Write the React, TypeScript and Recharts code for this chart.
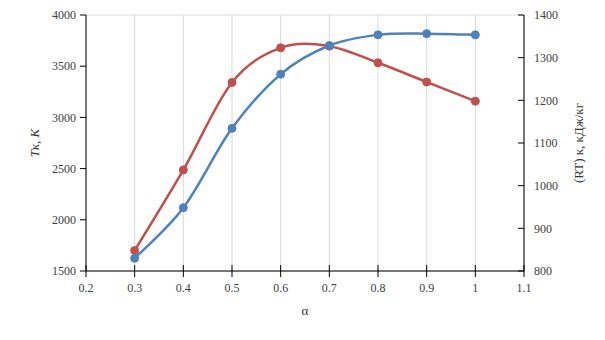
import {
  CartesianGrid,
  Line,
  LineChart,
  XAxis,
  YAxis,
} from "recharts";

const alpha = [0.3, 0.4, 0.5, 0.6, 0.7, 0.8, 0.9, 1.0];
const tk = [1624, 2118, 2893, 3422, 3702, 3806, 3818, 3806];
const rtk = [848, 1037, 1242, 1323, 1327, 1288, 1243, 1198];

const xTicks = [0.2, 0.3, 0.4, 0.5, 0.6, 0.7, 0.8, 0.9, 1.0, 1.1];
const leftTicks = [1500, 2000, 2500, 3000, 3500, 4000];
const rightTicks = [800, 900, 1000, 1100, 1200, 1300, 1400];

const data = alpha.map((a, i) => ({ a, tk: tk[i], rtk: rtk[i] }));

const font = "'Liberation Serif', 'Times New Roman', serif";
const TICK = 6;
const GAP = 6;

// Excel-like smoothing (Catmull-Rom through the points)
function smoothCurve(ctx: any) {
  let pts: [number, number][] = [];
  return {
    areaStart() {},
    areaEnd() {},
    lineStart() {
      pts = [];
    },
    point(x: number, y: number) {
      pts.push([+x, +y]);
    },
    lineEnd() {
      if (!pts.length) return;
      ctx.moveTo(pts[0][0], pts[0][1]);
      for (let i = 0; i < pts.length - 1; i++) {
        const p0 = pts[i - 1] || pts[i];
        const p1 = pts[i];
        const p2 = pts[i + 1];
        const p3 = pts[i + 2] || p2;
        ctx.bezierCurveTo(
          p1[0] + (p2[0] - p0[0]) / 6,
          p1[1] + (p2[1] - p0[1]) / 6,
          p2[0] - (p3[0] - p1[0]) / 6,
          p2[1] - (p3[1] - p1[1]) / 6,
          p2[0],
          p2[1]
        );
      }
    },
  };
}

function XTick(props: any) {
  const { x, y, payload } = props;
  const axisY = y - TICK - GAP;
  return (
    <g>
      <line x1={x} x2={x} y1={axisY - TICK} y2={axisY} stroke="#000" />
      <text
        x={x}
        y={y}
        dy="0.71em"
        textAnchor="middle"
        fontSize={12}
        fill="#404040"
        fontFamily={font}
      >
        {String(Math.round(payload.value * 10) / 10)}
      </text>
    </g>
  );
}

function LeftTick(props: any) {
  const { x, y, payload } = props;
  return (
    <text
      x={x}
      y={y}
      dy="0.355em"
      textAnchor="end"
      fontSize={12}
      fill="#404040"
      fontFamily={font}
    >
      {payload.value}
    </text>
  );
}

function RightTick(props: any) {
  const { x, y, payload } = props;
  const axisX = x - TICK - GAP;
  return (
    <g>
      <line x1={axisX - TICK} x2={axisX} y1={y} y2={y} stroke="#000" />
      <text
        x={x - 2}
        y={y}
        dy="0.355em"
        textAnchor="start"
        fontSize={12}
        fill="#404040"
        fontFamily={font}
      >
        {payload.value}
      </text>
    </g>
  );
}

function App() {
  return (
    <div style={{ position: "absolute", left: 0, top: 0, background: "#fff" }}>
      <LineChart
        width={605}
        height={340}
        data={data}
        margin={{ top: 15, right: 21, bottom: 39, left: 26 }}
      >
        <CartesianGrid stroke="#d9d9d9" strokeWidth={1} />
        <XAxis
          dataKey="a"
          type="number"
          domain={[0.2, 1.1]}
          ticks={xTicks}
          height={30}
          stroke="#000"
          tickSize={TICK}
          tickMargin={GAP}
          tick={<XTick />}
          label={{
            value: "α",
            position: "insideBottom",
            offset: -14,
            style: { fontSize: 13, fill: "#333", fontFamily: font },
          }}
        />
        <YAxis
          yAxisId="left"
          domain={[1500, 4000]}
          ticks={leftTicks}
          width={60}
          stroke="#000"
          tickSize={TICK}
          tickMargin={4}
          tick={<LeftTick />}
          label={{
            value: "Tк, К",
            angle: -90,
            position: "center",
            dx: -22,
            style: {
              fontSize: 13,
              fill: "#333",
              fontFamily: font,
              fontStyle: "italic",
            },
          }}
        />
        <YAxis
          yAxisId="right"
          orientation="right"
          domain={[800, 1400]}
          ticks={rightTicks}
          width={60}
          stroke="#000"
          tickSize={TICK}
          tickMargin={GAP}
          tickLine={false}
          tick={<RightTick />}
          label={{
            value: "(RT) к, кДж/кг",
            angle: -90,
            position: "center",
            dx: 24,
            style: { fontSize: 13, fill: "#333", fontFamily: font },
          }}
        />
        <Line
          yAxisId="right"
          type={smoothCurve as any}
          dataKey="rtk"
          stroke="#C0504D"
          strokeWidth={2.5}
          dot={{ r: 4, fill: "#C0504D", stroke: "#C0504D", strokeWidth: 1 }}
          isAnimationActive={false}
        />
        <Line
          yAxisId="left"
          type={smoothCurve as any}
          dataKey="tk"
          stroke="#4F81BD"
          strokeWidth={2.5}
          dot={{ r: 4, fill: "#4F81BD", stroke: "#4F81BD", strokeWidth: 1 }}
          isAnimationActive={false}
        />
      </LineChart>
    </div>
  );
}

export default App;
